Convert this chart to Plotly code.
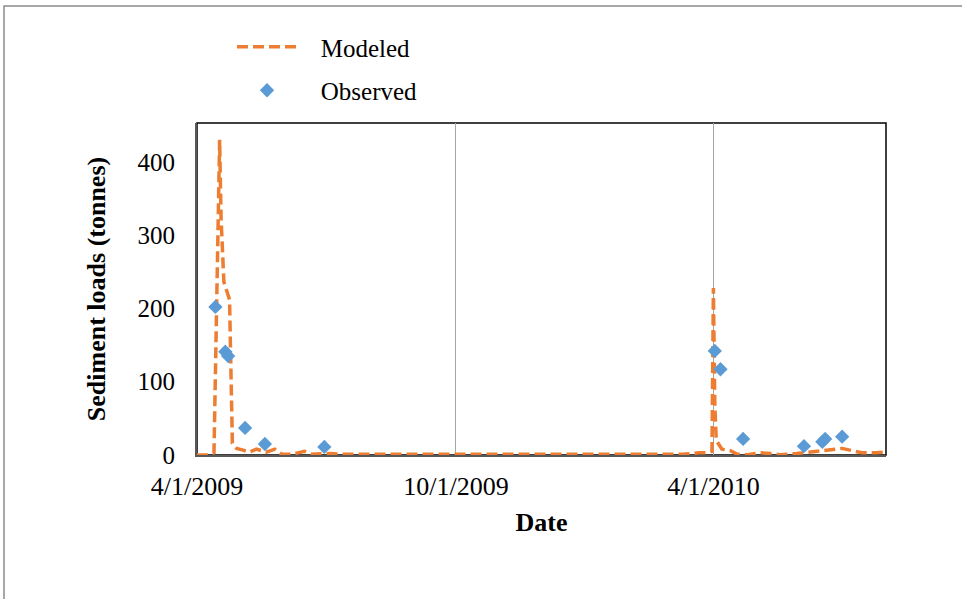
import plotly.graph_objects as go

# Modeled sediment loads (tonnes)
modeled_dates = [
    "2009-04-01", "2009-04-09", "2009-04-13", "2009-04-17", "2009-04-18",
    "2009-04-20", "2009-04-23", "2009-04-24", "2009-04-26", "2009-04-29",
    "2009-05-03", "2009-05-08", "2009-05-13", "2009-05-20", "2009-05-26",
    "2009-05-31", "2009-06-07", "2009-06-16", "2009-06-21", "2009-07-04",
    "2009-07-15", "2009-08-15", "2009-09-15", "2009-10-15", "2009-11-15",
    "2009-12-15", "2010-01-15", "2010-02-15", "2010-03-10", "2010-03-22",
    "2010-03-28", "2010-03-31", "2010-04-01", "2010-04-02", "2010-04-03",
    "2010-04-05", "2010-04-07", "2010-04-13", "2010-04-18", "2010-04-25",
    "2010-05-04", "2010-05-11", "2010-05-18", "2010-05-30", "2010-06-08",
    "2010-06-20", "2010-07-01", "2010-07-08", "2010-07-15", "2010-07-25",
    "2010-08-01",
]
modeled_values = [
    0, 0, 3, 430, 324,
    236, 218, 212, 16, 9,
    7, 4, 8, 4, 8,
    1, 1, 5, 1, 2,
    1, 1, 1.5, 1.5, 1,
    1, 1, 1, 1, 3,
    3, 5, 228, 70, 20,
    14, 8, 6, 1, 0.5,
    3, 2, 0.5, 2, 4,
    7, 9, 6, 3, 3,
    4,
]

# Observed sediment loads (tonnes)
observed_dates = [
    "2009-04-14", "2009-04-21", "2009-04-23", "2009-05-05", "2009-05-19",
    "2009-06-30", "2010-04-02", "2010-04-06", "2010-04-22", "2010-06-04",
    "2010-06-17", "2010-06-19", "2010-07-01",
]
observed_values = [202, 141, 135, 37, 15, 11, 142, 117, 22, 12, 18, 22, 25]

x_tickvals = ["2009-04-01", "2009-10-01", "2010-04-01"]
x_ticktext = ["4/1/2009", "10/1/2009", "4/1/2010"]
y_tickvals = [0, 100, 200, 300, 400]

FONT = "Liberation Serif"
NB = "\u00a0\u00a0\u00a0"

fig = go.Figure()
fig.add_trace(go.Scatter(
    x=modeled_dates, y=modeled_values, mode="lines", name=NB + "Modeled",
    line=dict(color="#ED7D31", width=3.5, dash="11px,5px"),
    legendgroup="m",
))
fig.add_trace(go.Scatter(
    x=observed_dates, y=observed_values, mode="markers", name=NB + "Observed",
    marker=dict(symbol="diamond", size=11, color="#5B9BD5"),
    legendgroup="o",
))

# plot frame (top/right black)
fig.add_shape(type="rect", xref="paper", yref="paper", x0=0, y0=0, x1=1, y1=1,
              line=dict(color="black", width=1.5), layer="below")
# outer chart border
fig.add_shape(type="rect", xref="paper", yref="paper",
              x0=(4 - 197) / 689, x1=(975 - 197) / 689,
              y0=(455 - 610) / 332, y1=(455 - 6) / 332,
              line=dict(color="#8C8C8C", width=1.5), layer="below")

fig.update_layout(
    width=962, height=599,
    margin=dict(l=197, r=76, t=123, b=144),
    paper_bgcolor="white", plot_bgcolor="white",
    font=dict(family=FONT, size=25, color="black"),
    showlegend=True,
    legend=dict(
        x=(232 - 197) / 689, xanchor="left",
        y=(455 - 24) / 332, yanchor="top",
        font=dict(family=FONT, size=25, color="black"),
        bgcolor="rgba(0,0,0,0)",
        traceorder="grouped", tracegroupgap=8,
        itemwidth=60,
    ),
    xaxis=dict(
        type="date", range=["2009-04-01", "2010-08-01"],
        tickvals=x_tickvals, ticktext=x_ticktext,
        showgrid=True, gridcolor="#A6A6A6", gridwidth=1,
        showline=True, linecolor="#595959", linewidth=2,
        ticks="", ticklabelstandoff=7,
        zeroline=False, layer="below traces",
        title=dict(text="<b>Date</b>", font=dict(family=FONT, size=26), standoff=13),
        tickfont=dict(family=FONT, size=26),
    ),
    yaxis=dict(
        range=[0, 453], tickvals=y_tickvals,
        showgrid=False, zeroline=False,
        showline=True, linecolor="#595959", linewidth=2,
        ticks="", ticklabelstandoff=15, layer="below traces",
        title=dict(text="<b>Sediment loads (tonnes)</b>", font=dict(family=FONT, size=26), standoff=24),
        tickfont=dict(family=FONT, size=25),
    ),
)

fig.write_html("out.html", config={"displayModeBar": False},
               post_script="document.body.style.margin='0px';")
